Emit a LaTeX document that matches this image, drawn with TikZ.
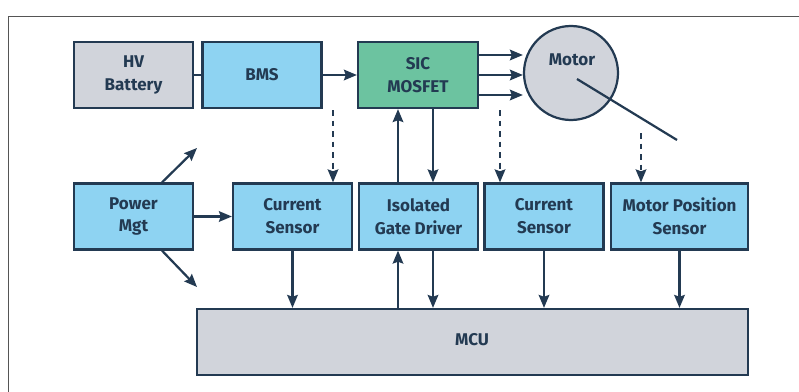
\documentclass[tikz,border=0pt]{standalone}
\usepackage{fontspec}
\setmainfont{Fira Sans}
\usepackage{xcolor}
\usetikzlibrary{calc, arrows.meta, positioning}

\definecolor{navy}{HTML}{233A52}
\definecolor{skyblue}{HTML}{8ED3F2}
\definecolor{palegray}{HTML}{D1D4DB}
\definecolor{mosgreen}{HTML}{6CC3A0}
\definecolor{framegray}{HTML}{555555}

\tikzset{
    blocktext/.style={text=navy, font=\bfseries\fontsize{14.5}{19.5}\selectfont},
    block/.style={blocktext, draw=navy, line width=1.9pt, fill=skyblue, align=center,
        minimum width=3.57cm, minimum height=1.98cm, inner sep=0pt},
    link/.style={draw=navy, line width=1.9pt},
    sense/.style={link, dash pattern=on 5pt off 4pt},
}

\begin{document}
\begin{tikzpicture}[x=0.03cm, y=-0.03cm, >={Stealth[length=11pt, width=9pt, inset=1.5pt]}]
    \useasboundingbox (0,0) rectangle (799,392);
    \draw[framegray, line width=0.8pt] (8,392) -- (8,16) -- (799,16);

    \node[block, fill=palegray] (bat) at (133.5,75) {HV\\Battery};
    \node[block] (bms) at (262,75) {BMS};
    \node[block, fill=mosgreen, minimum width=3.6cm] (mosfet) at (418,75) {SIC\\MOSFET};
    \node[circle, draw=navy, line width=1.9pt, fill=palegray, minimum size=2.82cm] (motor) at (571,73) {};
    \node[blocktext] (motorlbl) at (572,60) {Motor};

    \node[block] (pwr) at (133.5,216.5) {Power\\Mgt};
    \node[block] (cs1) at (292.5,216.5) {Current\\Sensor};
    \node[block] (gd) at (418.5,216.5) {Isolated\\Gate Driver};
    \node[block] (cs2) at (544,216.5) {Current\\Sensor};
    \node[block, minimum width=4.11cm] (mps) at (679.5,216.5) {Motor Position\\Sensor};
    \node[block, fill=palegray, minimum width=16.53cm] (mcu) at (472.5,342) {};
    \node[blocktext] (mculbl) at (472,340) {MCU};

    \coordinate (shaft) at (677,140);
    \coordinate (tapA) at (333,110);
    \coordinate (tapB) at (500,110);
    \coordinate (tapC) at (641,133);
    \coordinate (pwrup) at (197,148);
    \coordinate (pwrdown) at (197,287);

    \draw[link] (bat) -- (bms);
    \draw[link, ->] (bms) -- (mosfet);
    \foreach \y in {55,75,95}
        \draw[link, ->] (mosfet.east |- 0,\y) -- (motor.west |- 0,\y);
    \draw[link] ($(motor.center)+(6,6)$) -- (shaft);

    \draw[sense, ->] (tapA) -- (tapA |- cs1.north);
    \draw[sense, ->] (tapB) -- (tapB |- cs2.north);
    \draw[sense, ->] (tapC) -- (tapC |- mps.north);

    \draw[link, ->] (mosfet.south -| 433,0) -- (gd.north -| 433,0);
    \draw[link, ->] (gd.north -| 398,0) -- (mosfet.south -| 398,0);

    \draw[link, ->] (pwr) -- (cs1);
    \draw[link, ->] (pwr.north -| 162,0) -- (pwrup);
    \draw[link, ->] (pwr.south -| 162,0) -- (pwrdown);

    \draw[link, ->] (cs1) -- (cs1 |- mcu.north);
    \draw[link, ->] (mcu.north -| 398,0) -- (gd.south -| 398,0);
    \draw[link, ->] (gd.south -| 433,0) -- (mcu.north -| 433,0);
    \draw[link, ->] (cs2) -- (cs2 |- mcu.north);
    \draw[link, ->] (mps) -- (mps |- mcu.north);
\end{tikzpicture}
\end{document}
